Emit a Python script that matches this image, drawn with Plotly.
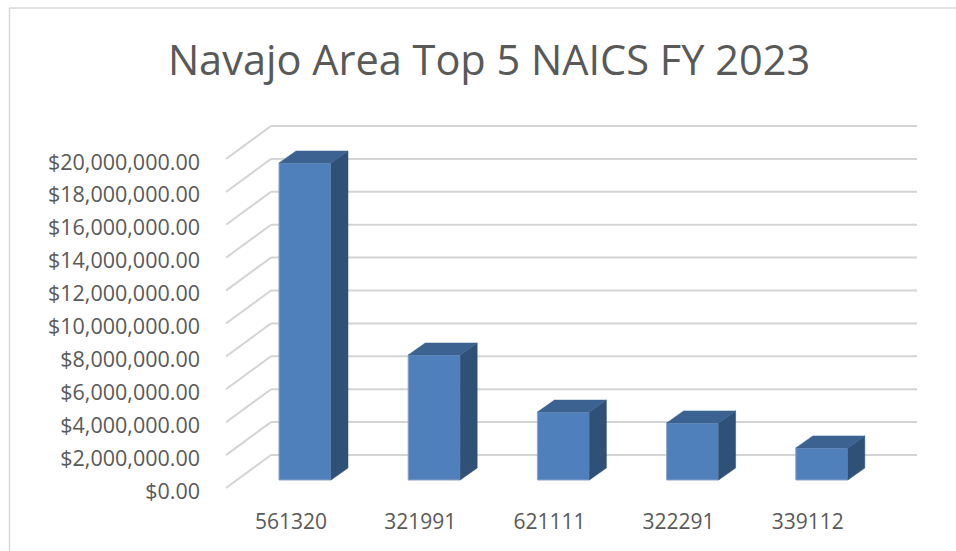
import plotly.graph_objects as go

categories = ["561320", "321991", "621111", "322291", "339112"]
values = [19270000, 7600000, 4130000, 3470000, 1950000]
y_ticks = [0, 2000000, 4000000, 6000000, 8000000, 10000000, 12000000, 14000000, 16000000, 18000000, 20000000]
y_labels = ["$0.00", "$2,000,000.00", "$4,000,000.00", "$6,000,000.00", "$8,000,000.00", "$10,000,000.00",
            "$12,000,000.00", "$14,000,000.00", "$16,000,000.00", "$18,000,000.00", "$20,000,000.00"]
title_text = "Navajo Area Top 5 NAICS FY 2023"

W, H = 956, 551
L, R, T, B = 226, 922, 110, 507
PX_PER_CAT = 129.2
PX_PER_USD = 16.45 / 1e6
X0_PX = 291
Y0_PX = 488

x_range = [(L - X0_PX) / PX_PER_CAT, (R - X0_PX) / PX_PER_CAT]
y_range = [(Y0_PX - B) / PX_PER_USD, (Y0_PX - T) / PX_PER_USD]

WALL_DX, WALL_DY = 45 / PX_PER_CAT, 33 / PX_PER_USD
BAR_OFFSET = 14 / PX_PER_CAT
BAR_WIDTH = 52 / PX_PER_CAT
BAR_BASE = 8 / PX_PER_USD
DEPTH_DX, DEPTH_DY = 17 / PX_PER_CAT, 12 / PX_PER_USD
WALL_RIGHT = (917 - X0_PX) / PX_PER_CAT
FRONT_LEFT = (226 - X0_PX) / PX_PER_CAT

FRONT, SIDE, TOP = "#4f80bc", "#2f5178", "#3b6290"
xs = list(range(len(categories)))

fig = go.Figure()
fig.add_trace(go.Bar(
    x=[i + BAR_OFFSET for i in xs], y=values, base=BAR_BASE, width=BAR_WIDTH,
    marker=dict(color=FRONT, line=dict(color="#8ba3c4", width=1)), showlegend=False,
))
for i, v in zip(xs, values):
    x_l = i + BAR_OFFSET - BAR_WIDTH / 2
    x_r = i + BAR_OFFSET + BAR_WIDTH / 2
    y_b, y_t = BAR_BASE, BAR_BASE + v
    fig.add_trace(go.Scatter(
        x=[x_r, x_r + DEPTH_DX, x_r + DEPTH_DX, x_r, x_r],
        y=[y_b, y_b + DEPTH_DY, y_t + DEPTH_DY, y_t, y_b],
        mode="lines", fill="toself", fillcolor=SIDE, line=dict(color=SIDE, width=0.5),
        showlegend=False, hoverinfo="skip",
    ))
    fig.add_trace(go.Scatter(
        x=[x_l, x_l + DEPTH_DX, x_r + DEPTH_DX, x_r, x_l],
        y=[y_t, y_t + DEPTH_DY, y_t + DEPTH_DY, y_t, y_t],
        mode="lines", fill="toself", fillcolor=TOP, line=dict(color=TOP, width=0.5),
        showlegend=False, hoverinfo="skip",
    ))

grid = dict(color="#d4d4d4", width=2)
for t in y_ticks:
    fig.add_shape(type="line", xref="x", yref="y", layer="below", line=grid,
                  x0=FRONT_LEFT, y0=t, x1=FRONT_LEFT + WALL_DX, y1=t + WALL_DY)
    fig.add_shape(type="line", xref="x", yref="y", layer="below", line=grid,
                  x0=FRONT_LEFT + WALL_DX, y0=t + WALL_DY, x1=WALL_RIGHT, y1=t + WALL_DY)

def px(x):
    return (x - L) / (R - L)

def py(y):
    return (B - y) / (B - T)

frame = dict(color="#d9d9d9", width=1.5)
fig.add_shape(type="line", xref="paper", yref="paper", line=frame,
              x0=px(9.5), y0=py(551), x1=px(9.5), y1=py(8))
fig.add_shape(type="line", xref="paper", yref="paper", line=frame,
              x0=px(9.5), y0=py(8), x1=px(956), y1=py(8))

FONT = "Open Sans"
fig.update_layout(
    width=W, height=H, margin=dict(l=L, r=W - R, t=T, b=H - B),
    paper_bgcolor="white", plot_bgcolor="white", showlegend=False,
    font=dict(family=FONT, color="#595959"),
    title=dict(text=title_text, x=489 / W, xanchor="center", y=1 - 60 / H, yanchor="middle",
               font=dict(family=FONT, size=41.5, color="#595959")),
    xaxis=dict(range=x_range, tickmode="array", tickvals=xs, ticktext=categories, showgrid=False,
               zeroline=False, showline=False, ticks="", tickfont=dict(size=21, color="#595959")),
    yaxis=dict(range=y_range, tickmode="array", tickvals=y_ticks, ticktext=y_labels, showgrid=False,
               zeroline=False, showline=False, ticks="", ticklabelstandoff=25, ticklabelshift=3,
               tickfont=dict(size=21.5, color="#595959")),
)

fig.write_html("out.html", config={"displayModeBar": False},
               post_script="document.body.style.margin='0';document.body.style.overflow='hidden';")
